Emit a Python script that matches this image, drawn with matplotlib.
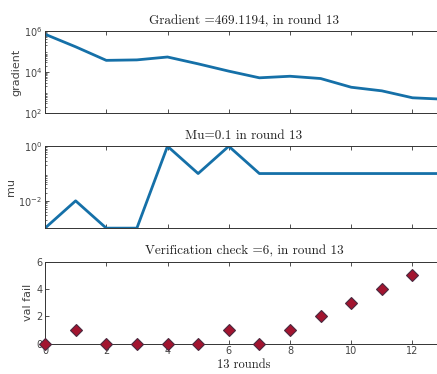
import matplotlib.pyplot as plt
import numpy as np
from matplotlib.ticker import LogLocator, NullFormatter

# data
rounds = np.arange(14)
gradient = [7e5, 1.7e5, 3.7e4, 3.9e4, 5.4e4, 2.5e4, 1.1e4, 5.2e3, 6.2e3, 4.8e3,
            1.8e3, 1.2e3, 550, 469.1194]
mu = [1e-3, 1e-2, 1e-3, 1e-3, 1, 0.1, 1, 0.1, 0.1, 0.1, 0.1, 0.1, 0.1, 0.1]
val_fail = [0, 1, 0, 0, 0, 0, 1, 0, 1, 2, 3, 4, 5, 6]

blue = '#1570A8'
red = '#A2142F'
axcol = '#333333'
lblcol = '#444444'
serif = 'cmr10'

fig = plt.figure(figsize=(4.37, 3.74), dpi=100)
w = 1.014 - 0.103
h = 0.219
ax1 = fig.add_axes([0.103, 0.698, w, h])
ax2 = fig.add_axes([0.103, 0.390, w, h])
ax3 = fig.add_axes([0.103, 0.081, w, h])

for ax in (ax1, ax2, ax3):
    ax.set_xlim(0, 13)
    ax.set_xticks(range(0, 14, 2))
    ax.tick_params(direction='in', top=True, right=True, labelsize=7,
                   color=axcol, labelcolor=lblcol, length=3, width=0.6, pad=2)
    ax.tick_params(which='minor', direction='in', right=True, length=1.5,
                   width=0.5, color=axcol)
    for s in ax.spines.values():
        s.set_color(axcol)
        s.set_linewidth(0.7)

# gradient
ax1.plot(rounds, gradient, color=blue, lw=2)
ax1.set_yscale('log')
ax1.set_ylim(1e2, 1e6)
ax1.set_yticks([1e2, 1e4, 1e6])
ax1.yaxis.set_minor_locator(LogLocator(base=10, subs=np.arange(2, 10)))
ax1.yaxis.set_minor_formatter(NullFormatter())
ax1.set_xticklabels([])
ax1.set_ylabel('gradient', fontsize=8, labelpad=2, color=lblcol)
ax1.set_title('Gradient =469.1194, in round 13', fontsize=9.5,
              family=serif, pad=5, color='#222222')

# mu
ax2.plot(rounds, mu, color=blue, lw=2)
ax2.set_yscale('log')
ax2.set_ylim(1e-3, 1e0)
ax2.set_yticks([1e-2, 1e0])
ax2.yaxis.set_minor_locator(LogLocator(base=10, subs=np.arange(2, 10)))
ax2.yaxis.set_minor_formatter(NullFormatter())
ax2.set_xticklabels([])
ax2.set_ylabel('mu', fontsize=8, labelpad=2, color=lblcol)
ax2.set_title('Mu=0.1 in round 13', fontsize=9.5, family=serif, pad=5,
              color='#222222')

# validation failures
ax3.plot(rounds, val_fail, linestyle='none', marker='D', ms=6,
         mfc=red, mec='#4a2a40', mew=0.8, clip_on=False, zorder=3)
ax3.set_ylim(0, 6)
ax3.set_yticks([0, 2, 4, 6])
ax3.set_ylabel('val fail', fontsize=8, labelpad=2, color=lblcol)
ax3.set_xlabel('13 rounds', fontsize=9, family=serif, labelpad=2,
               color='#222222')
ax3.set_title('Verification check =6, in round 13', fontsize=9.5,
              family=serif, pad=5, color='#222222')

fig.savefig('out.png', dpi=100)
